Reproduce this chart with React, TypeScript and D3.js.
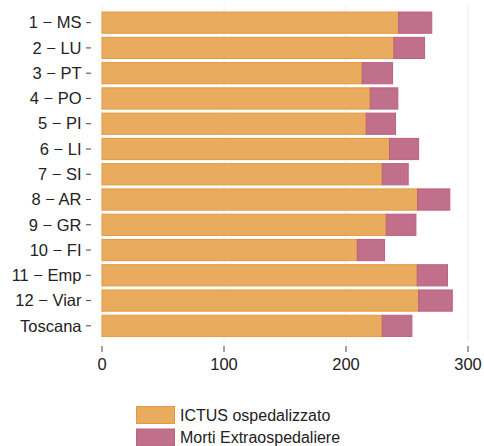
import React from "react";
import * as d3 from "d3";

const categories = ["1 − MS", "2 − LU", "3 − PT", "4 − PO", "5 − PI", "6 − LI", "7 − SI", "8 − AR", "9 − GR", "10 − FI", "11 − Emp", "12 − Viar", "Toscana"];
const ictus = [243.1, 239.3, 213.3, 219.9, 216.6, 235.7, 229.7, 258.7, 233.0, 209.3, 258.4, 259.5, 229.7];
const morti = [27.2, 25.1, 24.9, 22.6, 24.0, 23.8, 21.3, 26.4, 24.3, 22.3, 24.8, 27.6, 24.3];
const xTicks = [0, 100, 200, 300];
const seriesNames = ["ICTUS ospedalizzato", "Morti Extraospedaliere"];

const W = 484;
const H = 446;
const FONT = "'Liberation Sans', Arial, sans-serif";
const fills = ["#E9AB5E", "#C0708A"];
const strokes = ["#E3993F", "#C05F82"];

export default function App() {
  const x = d3.scaleLinear().domain([0, 300]).range([102, 468]);
  const y = d3
    .scaleBand<string>()
    .domain(categories)
    .range([7.5, 341])
    .paddingInner(0.16)
    .paddingOuter(0.18);
  const bw = y.bandwidth();

  return (
    <svg width={W} height={H} style={{ position: "absolute", left: 0, top: 0, fontFamily: FONT }}>
      {xTicks.map((t) => (
        <line key={"g" + t} x1={x(t)} x2={x(t)} y1={5} y2={342} stroke="#E8ECF2" strokeWidth={1} />
      ))}
      {categories.map((c, i) => {
        const y0 = y(c)!;
        return (
          <g key={c}>
            <rect x={x(0)} y={y0} width={x(ictus[i]) - x(0)} height={bw} fill={fills[0]} stroke={strokes[0]} strokeWidth={1} />
            <rect
              x={x(ictus[i])}
              y={y0}
              width={x(ictus[i] + morti[i]) - x(ictus[i])}
              height={bw}
              fill={fills[1]}
              stroke={strokes[1]}
              strokeWidth={1}
            />
            <line x1={86} x2={91} y1={y0 + bw / 2} y2={y0 + bw / 2} stroke="#444" strokeWidth={1} />
            <text x={81.5} y={y0 + bw / 2} dy="0.35em" textAnchor="end" fontSize={16.5} fill="#222">
              {c}
            </text>
          </g>
        );
      })}
      {xTicks.map((t) => (
        <g key={"t" + t}>
          <line x1={x(t)} x2={x(t)} y1={346} y2={352} stroke="#444" strokeWidth={1} />
          <text x={x(t)} y={364} dy="0.35em" textAnchor="middle" fontSize={16.5} fill="#222">
            {t}
          </text>
        </g>
      ))}
      {seriesNames.map((s, i) => (
        <g key={s}>
          <rect x={136.5} y={406.5 + i * 22.5} width={38} height={17} fill={fills[i]} stroke={strokes[i]} strokeWidth={1} />
          <text x={180} y={415 + i * 22.5} dy="0.35em" fontSize={16} fill="#222">
            {s}
          </text>
        </g>
      ))}
    </svg>
  );
}
